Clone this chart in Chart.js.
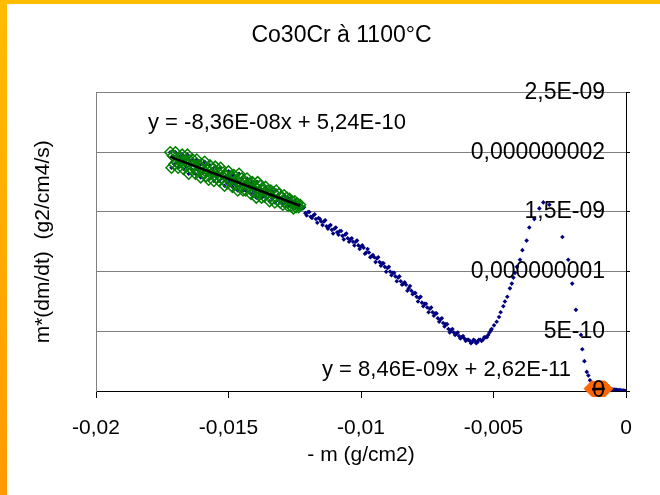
<!DOCTYPE html>
<html>
<head>
<meta charset="utf-8">
<script src="https://cdn.jsdelivr.net/npm/chart.js@4.4.1/dist/chart.umd.min.js"></script>
<style>
  html, body { margin: 0; padding: 0; }
  body { width: 660px; height: 495px; overflow: hidden; position: relative;
         background: linear-gradient(to bottom, #FFBC00, #FF9A00); }
  #wrap { position: absolute; left: 7px; top: 4px; width: 653px; height: 491px; background: #fff; }
</style>
</head>
<body>
<div id="wrap"><canvas id="chart" width="653" height="491"></canvas></div>
<script>
// y values are given in units of 1e-9 g2/cm4/s
var Y_UNIT = 1e-9;

// tick labels as shown on the axes
var xTickLabels = ['-0,02', '-0,015', '-0,01', '-0,005', '0'];
var yTickLabels = ['0', '5E-10', '0,000000001', '1,5E-09', '0,000000002', '2,5E-09'];

// measured points: - m (g/cm2)
var blueX = [
  // first stage (fitted part)
  -0.01720,-0.01715,-0.01710,-0.01705,-0.01700,-0.01695,-0.01690,-0.01685,-0.01680,-0.01675,
  -0.01670,-0.01665,-0.01660,-0.01655,-0.01650,-0.01645,-0.01640,-0.01635,-0.01630,-0.01625,
  -0.01620,-0.01615,-0.01610,-0.01605,-0.01600,-0.01595,-0.01590,-0.01585,-0.01580,-0.01575,
  -0.01570,-0.01565,-0.01560,-0.01555,-0.01550,-0.01545,-0.01540,-0.01535,-0.01530,-0.01525,
  -0.01520,-0.01515,-0.01510,-0.01505,-0.01500,-0.01495,-0.01490,-0.01485,-0.01480,-0.01475,
  -0.01470,-0.01465,-0.01460,-0.01455,-0.01450,-0.01445,-0.01440,-0.01435,-0.01430,-0.01425,
  -0.01420,-0.01415,-0.01410,-0.01405,-0.01400,-0.01395,-0.01390,-0.01385,-0.01380,-0.01375,
  -0.01370,-0.01365,-0.01360,-0.01355,-0.01350,-0.01345,-0.01340,-0.01335,-0.01330,-0.01325,
  -0.01320,-0.01315,-0.01310,-0.01305,-0.01300,-0.01295,-0.01290,-0.01285,-0.01280,-0.01275,
  -0.01270,-0.01265,-0.01260,-0.01255,-0.01250,-0.01245,-0.01240,-0.01235,-0.01230,
  // decreasing part
  -0.0122,-0.0121,-0.0120,-0.0119,-0.0118,-0.0117,-0.0116,-0.0115,-0.0114,-0.0113,
  -0.0112,-0.0111,-0.0110,-0.0109,-0.0108,-0.0107,-0.0106,-0.0105,-0.0104,-0.0103,
  -0.0102,-0.0101,-0.0100,-0.0099,-0.0098,-0.0097,-0.0096,-0.0095,-0.0094,-0.0093,
  -0.0092,-0.0091,-0.0090,-0.0089,-0.0088,-0.0087,-0.0086,-0.0085,-0.0084,-0.0083,
  -0.0082,-0.0081,-0.0080,-0.0079,-0.0078,-0.0077,-0.0076,-0.0075,-0.0074,-0.0073,
  -0.0072,-0.0071,-0.0070,-0.0069,-0.0068,-0.0067,-0.0066,-0.0065,-0.0064,-0.0063,
  -0.0062,-0.0061,-0.0060,-0.0059,-0.0058,-0.0057,-0.0056,-0.0055,-0.0054,-0.0053,
  -0.0052,-0.0051,
  -0.01215,-0.01205,-0.01195,-0.01185,-0.01175,-0.01165,-0.01155,-0.01145,-0.01135,-0.01125,
  -0.01115,-0.01105,-0.01095,-0.01085,-0.01075,-0.01065,-0.01055,-0.01045,-0.01035,-0.01025,
  -0.01015,-0.01005,-0.00995,-0.00985,-0.00975,-0.00965,-0.00955,-0.00945,-0.00935,-0.00925,
  -0.00915,-0.00905,-0.00895,-0.00885,-0.00875,-0.00865,-0.00855,-0.00845,-0.00835,-0.00825,
  -0.00815,-0.00805,-0.00795,-0.00785,-0.00775,-0.00765,-0.00755,-0.00745,-0.00735,-0.00725,
  -0.00715,-0.00705,-0.00695,-0.00685,-0.00675,-0.00665,-0.00655,-0.00645,-0.00635,-0.00625,
  -0.00615,-0.00605,-0.00595,-0.00585,-0.00575,-0.00565,-0.00555,-0.00545,-0.00535,-0.00525,
  -0.00515,
  // rise, peak and drop
  -0.00507,-0.00498,-0.00488,-0.00479,-0.00473,-0.00463,-0.00457,-0.00448,-0.00438,-0.00431,
  -0.00425,-0.00419,-0.00412,-0.00400,-0.00391,-0.00375,-0.00365,-0.00346,-0.00327,-0.00312,
  -0.00289,-0.00240,-0.00218,-0.00203,-0.00189,-0.00170,-0.00165,-0.00157,-0.00148,-0.00142,
  -0.00136,-0.00132,
  // last stage
  -0.00128,-0.00124,-0.00120,-0.00116,-0.00112,-0.00108,-0.00104,-0.00100,-0.00096,-0.00092,
  -0.00088,-0.00084,-0.00080,-0.00075,-0.00070,-0.00065,-0.00060,-0.00055,-0.00050,-0.00045,
  -0.00040,-0.00035,-0.00030,-0.00025,-0.00020,-0.00015,-0.00010,-0.00005,0
];
// m*(dm/dt), same order as blueX
var blueY = [
  2.00,1.87,1.97,1.90,2.00,1.92,1.87,1.96,1.92,1.98,
  1.86,1.93,1.88,1.98,1.82,1.93,1.86,1.94,1.89,1.82,
  1.94,1.85,1.89,1.79,1.90,1.83,1.92,1.80,1.85,1.77,
  1.89,1.82,1.86,1.76,1.88,1.79,1.83,1.76,1.87,1.78,
  1.83,1.72,1.80,1.74,1.84,1.76,1.80,1.71,1.81,1.73,
  1.77,1.68,1.82,1.72,1.78,1.68,1.74,1.68,1.78,1.71,
  1.74,1.65,1.75,1.67,1.71,1.62,1.75,1.66,1.72,1.62,
  1.68,1.63,1.71,1.65,1.68,1.59,1.68,1.61,1.66,1.58,
  1.68,1.60,1.65,1.58,1.62,1.56,1.64,1.58,1.62,1.55,
  1.61,1.55,1.59,1.53,1.59,1.54,1.57,1.54,1.56,
  1.53,1.49,1.50,1.46,1.47,1.44,1.45,1.42,1.42,1.38,
  1.38,1.35,1.36,1.33,1.34,1.30,1.31,1.28,1.27,1.25,
  1.25,1.22,1.21,1.20,1.16,1.16,1.13,1.12,1.11,1.08,
  1.07,1.04,1.03,1.00,0.99,0.96,0.95,0.92,0.90,0.89,
  0.86,0.84,0.82,0.79,0.78,0.74,0.73,0.70,0.69,0.66,
  0.65,0.61,0.60,0.57,0.56,0.52,0.51,0.49,0.48,0.46,
  0.45,0.44,0.43,0.42,0.41,0.42,0.41,0.43,0.43,0.45,
  0.47,0.51,
  1.54,1.47,1.50,1.45,1.48,1.41,1.44,1.39,1.43,1.36,
  1.39,1.32,1.37,1.31,1.34,1.27,1.32,1.25,1.28,1.22,
  1.26,1.19,1.22,1.15,1.19,1.12,1.14,1.08,1.12,1.05,
  1.07,1.00,1.04,0.97,0.99,0.92,0.96,0.89,0.91,0.84,
  0.88,0.81,0.82,0.75,0.79,0.71,0.73,0.66,0.70,0.63,
  0.65,0.58,0.61,0.54,0.56,0.49,0.52,0.47,0.49,0.44,
  0.46,0.42,0.43,0.40,0.43,0.40,0.43,0.42,0.45,0.45,
  0.49,
  0.52,0.55,0.58,0.62,0.66,0.71,0.75,0.79,0.86,0.90,
  0.95,0.99,1.04,1.10,1.18,1.26,1.37,1.44,1.53,1.58,
  1.56,1.29,1.10,0.90,0.68,0.47,0.35,0.25,0.16,0.13,
  0.09,0.05,
  0.020,0.017,0.016,0.016,0.017,0.016,0.017,0.018,0.017,0.018,
  0.019,0.018,0.019,0.018,0.017,0.016,0.015,0.014,0.013,0.012,
  0.011,0.010,0.008,0.007,0.006,0.004,0.003,0.002,0
];

// linear trend lines (x ranges of the fitted points)
var fitRanges = [[-0.0172, -0.0123], [-0.00128, -0.0008]];
var fitSlopes = [-8.36e-8, 8.46e-9];
var fitIntercepts = [5.24e-10, 2.62e-11];
var fitLabels = ['y = -8,36E-08x + 5,24E-10', 'y = 8,46E-09x + 2,62E-11'];

var FONT = '"Liberation Sans", Arial, sans-serif';
Chart.defaults.font.family = FONT;
Chart.defaults.color = '#000';

function pointsIn(range) {
  var out = [];
  for (var i = 0; i < blueX.length; i++) {
    if (blueX[i] >= range[0] - 1e-9 && blueX[i] <= range[1] + 1e-9) out.push({x: blueX[i], y: blueY[i]});
  }
  return out;
}
function fitLine(i) {
  return fitRanges[i].map(function (x) {
    return {x: x, y: (fitSlopes[i] * x + fitIntercepts[i]) / Y_UNIT};
  });
}
var allPoints = blueX.map(function (x, i) { return {x: x, y: blueY[i]}; });

// equation texts
var eqLabelPos = [[52, 30], [226, 277]];
var eqPlugin = {
  id: 'eqLabels',
  afterDraw: function (chart) {
    var ctx = chart.ctx, a = chart.chartArea;
    ctx.save();
    ctx.font = '22px ' + FONT;
    ctx.fillStyle = '#000';
    ctx.textBaseline = 'middle';
    ctx.textAlign = 'left';
    fitLabels.forEach(function (t, i) {
      ctx.fillText(t, a.left + eqLabelPos[i][0], a.top + eqLabelPos[i][1]);
    });
    ctx.restore();
  }
};

var chart = new Chart(document.getElementById('chart'), {
  type: 'scatter',
  data: {
    datasets: [
      {data: fitLine(0), showLine: true, borderColor: '#000', borderWidth: 2.5, pointRadius: 0},
      {data: fitLine(1), showLine: true, borderColor: '#000', borderWidth: 2.5, pointRadius: 0, clip: false},
      {data: pointsIn(fitRanges[1]), pointStyle: 'rectRot', pointRadius: 8,
       backgroundColor: '#FF6600', borderColor: '#FF6600', borderWidth: 1, clip: false},
      {data: pointsIn(fitRanges[0]), pointStyle: 'rectRot', pointRadius: 5.5,
       backgroundColor: 'rgba(0,0,0,0)', borderColor: '#008000', borderWidth: 1.5},
      {data: allPoints, pointStyle: 'rectRot', pointRadius: 2.3,
       backgroundColor: '#000080', borderColor: '#000080', borderWidth: 0}
    ]
  },
  options: {
    responsive: false,
    animation: false,
    layout: {padding: {left: 16, right: 0, top: 0, bottom: 27}},
    plugins: {
      legend: {display: false},
      tooltip: {enabled: false},
      title: {
        display: true,
        text: 'Co30Cr à 1100°C',
        font: {size: 23, weight: 'normal'},
        color: '#000',
        padding: {top: 18, bottom: 43}
      }
    },
    scales: {
      x: {
        type: 'linear', position: 'bottom', min: -0.02, max: 0,
        ticks: {stepSize: 0.005, padding: 18, font: {size: 21}, color: '#000',
                maxRotation: 0,
                callback: function (v, i) { return xTickLabels[i]; }},
        grid: {drawOnChartArea: false, color: '#000', tickLength: 7},
        border: {color: '#000'},
        title: {display: true, text: '- m (g/cm2)', font: {size: 21}, color: '#000', padding: 0},
        afterFit: function (s) { s.height = 77; }
      },
      y: {
        type: 'linear', position: 'right', min: 0, max: 2.5,
        ticks: {stepSize: 0.5, mirror: true, padding: -21, z: 1, font: {size: 23}, color: '#000',
                callback: function (v, i) { return yTickLabels[i]; }},
        grid: {color: function (c) { return c.tick && c.tick.value === 0 ? '#000' : '#808080'; },
               tickColor: '#000', tickLength: 4},
        border: {color: '#000'},
        afterFit: function (s) { s.width = 34; }
      },
      yL: {
        type: 'linear', position: 'left', min: 0, max: 2.5,
        ticks: {display: false},
        grid: {display: false},
        border: {display: true, color: '#808080'},
        title: {display: true, text: 'm*(dm/dt)  (g2/cm4/s)', font: {size: 21}, color: '#000',
                padding: {top: 8, bottom: 0}},
        afterFit: function (s) { s.width = 73; }
      }
    }
  },
  plugins: [eqPlugin]
});
</script>
</body>
</html>
